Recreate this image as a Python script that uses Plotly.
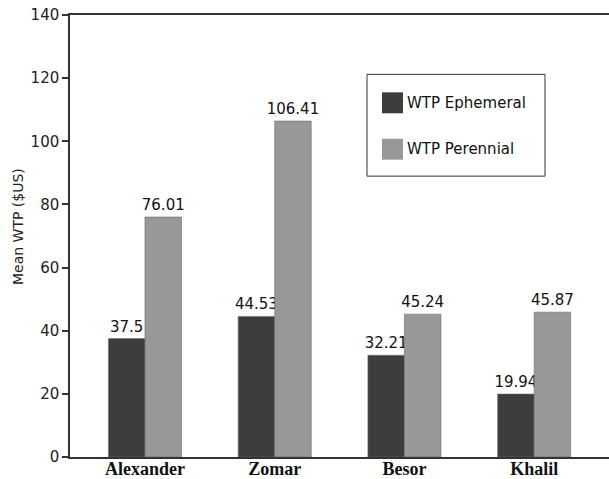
import plotly.graph_objects as go

categories = ["Alexander", "Zomar", "Besor", "Khalil"]
series_names = ["WTP Ephemeral", "WTP Perennial"]
ephemeral = [37.5, 44.53, 32.21, 19.94]
perennial = [76.01, 106.41, 45.24, 45.87]
ephemeral_labels = ["37.5", "44.53", "32.21", "19.94"]
perennial_labels = ["76.01", "106.41", "45.24", "45.87"]
y_ticks = [0, 20, 40, 60, 80, 100, 120, 140]

colors = ["#3d3d3d", "#989898"]
sans = "DejaVu Sans"

fig = go.Figure()
for name, vals, labels, col in zip(series_names, [ephemeral, perennial],
                                   [ephemeral_labels, perennial_labels], colors):
    fig.add_trace(go.Bar(
        x=categories, y=vals, name=name, text=labels,
        textposition="outside", cliponaxis=False, constraintext="none",
        textfont=dict(family=sans, size=15, color="#111"),
        marker=dict(color=col, line=dict(color="#6a6a6a", width=0.6)),
        showlegend=False,
    ))

# legend drawn as box + swatches + labels
L, R, T, B = 70, 609, 14.5, 457.5
W, H = R - L, B - T
def px(x): return (x - L) / W
def py(y): return (B - y) / H

shapes = [dict(type="rect", xref="paper", yref="paper",
               x0=px(367), x1=px(545), y0=py(176), y1=py(74),
               line=dict(color="#333", width=1), fillcolor="white", layer="above")]
annotations = []
for i, (name, col) in enumerate(zip(series_names, colors)):
    top = 92 + i * 46.5
    shapes.append(dict(type="rect", xref="paper", yref="paper",
                       x0=px(382), x1=px(403), y0=py(top + 21), y1=py(top),
                       line=dict(width=0), fillcolor=col, layer="above"))
    annotations.append(dict(xref="paper", yref="paper", x=px(405), y=py(top + 10.5),
                            text=name, showarrow=False, xanchor="left", yanchor="middle",
                            font=dict(family=sans, size=15, color="#111")))

# y-axis title
annotations.append(dict(xref="paper", yref="paper", x=px(18), y=py(227),
                        text="Mean WTP ($US)", textangle=-90, showarrow=False,
                        xanchor="center", yanchor="middle",
                        font=dict(family=sans, size=14, color="#222")))

fig.update_layout(
    width=609, height=479,
    margin=dict(l=L, r=0, t=T, b=479 - B),
    paper_bgcolor="white", plot_bgcolor="white",
    barmode="group", bargap=0.437, bargroupgap=0,
    shapes=shapes, annotations=annotations,
    showlegend=False,
)
fig.update_xaxes(
    range=[-0.578, 3.577], showline=True, mirror=True, linecolor="#333", linewidth=1.5,
    ticks="", showgrid=False, automargin=False,
    tickfont=dict(family="Liberation Serif", size=18, color="#111", weight="bold"),
    ticklabelstandoff=-5,
)
fig.update_yaxes(
    range=[0, 140], tickvals=y_ticks, showline=True, linecolor="#333", linewidth=1.5,
    ticks="outside", ticklen=6, tickwidth=1.5, tickcolor="#333", showgrid=False, zeroline=False,
    automargin=False,
    tickfont=dict(family=sans, size=15, color="#222"),
)
fig.write_html("out.html")
